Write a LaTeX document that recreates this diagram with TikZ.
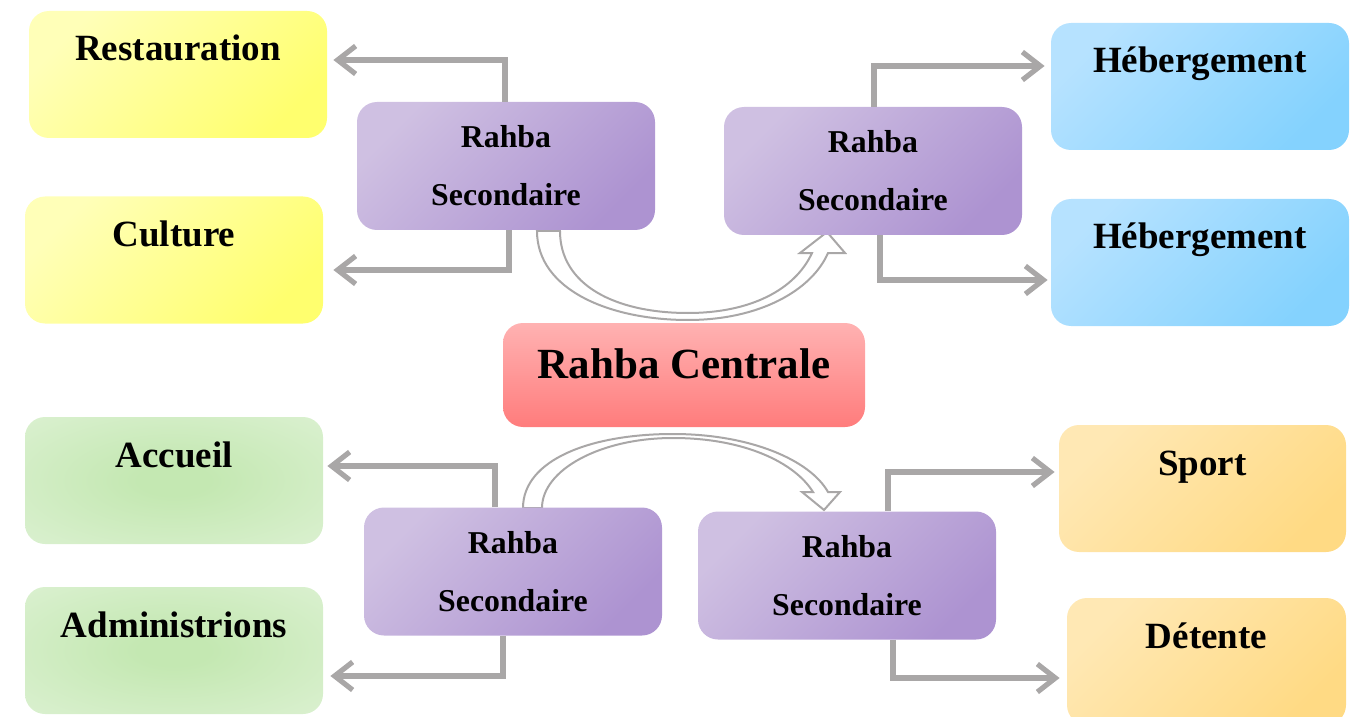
\documentclass[tikz,border=0pt]{standalone}
\usepackage{fontspec}
\setmainfont{Liberation Serif}
\usetikzlibrary{arrows.meta, positioning}
\definecolor{linkGrey}{HTML}{A9A7A7}
\definecolor{ylwLight}{HTML}{FFFFB8}
\definecolor{ylwDark}{HTML}{FFFF6E}
\definecolor{bluLight}{HTML}{B6E2FF}
\definecolor{bluDark}{HTML}{84D2FE}
\definecolor{grnIn}{HTML}{C4E8B2}
\definecolor{grnOut}{HTML}{DCF1D2}
\definecolor{orgLight}{HTML}{FFE8B4}
\definecolor{orgDark}{HTML}{FFDA84}
\definecolor{prpLight}{HTML}{CFC0E2}
\definecolor{prpDark}{HTML}{AD93D1}
\definecolor{redTop}{HTML}{FFB2B2}
\definecolor{redBot}{HTML}{FF7C7C}
\pgfdeclareradialshading{grnglow}{\pgfpoint{0bp}{0bp}}{%
  color(0bp)=(grnIn); color(6bp)=(grnIn); color(38bp)=(grnOut); color(50bp)=(grnOut)}
\tikzset{
  pole/.style     = {rounded corners=10pt, minimum width=149pt, minimum height=63.5pt,
                     inner sep=0pt, text height=25pt, text depth=38.5pt,
                     font=\fontsize{18.5}{22}\selectfont\bfseries},
  ylwpole/.style  = {pole, top color=ylwLight, bottom color=ylwDark, shading angle=45},
  blupole/.style  = {pole, top color=bluLight, bottom color=bluDark, shading angle=45},
  grnpole/.style  = {pole, shading=grnglow},
  orgpole/.style  = {pole, top color=orgLight, bottom color=orgDark, shading angle=45},
  secbox/.style   = {rounded corners=10pt, minimum width=149pt, minimum height=64pt,
                     inner sep=0pt, align=center, font=\fontsize{15.9}{29}\selectfont\bfseries,
                     top color=prpLight, bottom color=prpDark, shading angle=45},
  hubbox/.style   = {rounded corners=10pt, minimum width=181pt, minimum height=52pt,
                     inner sep=0pt, text height=27.5pt, text depth=24.5pt,
                     font=\fontsize{21.5}{24}\selectfont\bfseries,
                     top color=redTop, bottom color=redBot},
  link/.style     = {-{Straight Barb[length=9pt, width=14pt]}, line width=2.6pt, linkGrey},
  hollow/.style   = {draw=linkGrey, line width=1pt, fill=white},
}
\begin{document}
\begin{tikzpicture}[x=0.5pt, y=-0.5pt]
  \useasboundingbox (0,0) rectangle (1356,717);

  % curved block arrows round the centre
  \draw[hollow] (537,231) .. controls (537,290) and (610,320) .. (688,320)
    .. controls (760,320) and (812,290) .. (828,253) -- (845,253) -- (827,232)
    -- (800,253) -- (812,253) .. controls (795,290) and (750,313) .. (688,313)
    .. controls (615,313) and (560,285) .. (560,231) -- cycle;
  \draw[hollow] (523,508) .. controls (523,460) and (590,434) .. (673,434)
    .. controls (750,434) and (810,460) .. (828,492) -- (840,492) -- (824,510)
    -- (802,492) -- (813,492) .. controls (795,463) and (745,438) .. (673,438)
    .. controls (600,438) and (542,470) .. (542,508) -- cycle;

  \node[hubbox] (hub) at (684,375) {Rahba Centrale};

  \node[secbox] (sec1) at (506,166)   {Rahba\\Secondaire};
  \node[secbox] (sec2) at (873,171)   {Rahba\\Secondaire};
  \node[secbox] (sec3) at (513,571.5) {Rahba\\Secondaire};
  \node[secbox] (sec4) at (847,575.5) {Rahba\\Secondaire};

  \node[ylwpole] (resto) at (178,74.5)   {Restauration};
  \node[ylwpole] (cult)  at (174,260)    {Culture};
  \node[blupole] (heb1)  at (1200,86.5)  {Hébergement};
  \node[blupole] (heb2)  at (1200,262.5) {Hébergement};
  \node[grnpole] (accu)  at (174,480.5)  {Accueil};
  \node[grnpole] (admin) at (174,650.5)  {Administrions};
  \node[orgpole, minimum width=143.5pt] (sport) at (1202.5,488.5) {Sport};
  \node[orgpole, minimum width=139.5pt] (dete)  at (1206.5,661.5) {Détente};

  \draw[link, shorten >=3pt]   ([xshift=-0.5pt]sec1.north) |- ([yshift=7.25pt]resto.east);
  \draw[link, shorten >=5pt]   ([xshift=1.5pt]sec1.south)  |- ([yshift=-5pt]cult.east);
  \draw[link, shorten >=3pt]   ([xshift=0.5pt]sec2.north)  |- ([yshift=10.25pt]heb1.west);
  \draw[link, shorten >=1.5pt] ([xshift=3.5pt]sec2.south)  |- ([yshift=-8.75pt]heb2.west);
  \draw[link, shorten >=2pt]   ([xshift=-9pt]sec3.north)   |- ([yshift=7.25pt]accu.east);
  \draw[link, shorten >=3.5pt] ([xshift=-5pt]sec3.south)   |- ([yshift=-12.75pt]admin.east);
  \draw[link, shorten >=2pt]   ([xshift=20.5pt]sec4.north) |- ([yshift=8.25pt]sport.west);
  \draw[link, shorten >=3.5pt] ([xshift=23pt]sec4.south)   |- ([yshift=-8.25pt]dete.west);
\end{tikzpicture}
\end{document}
